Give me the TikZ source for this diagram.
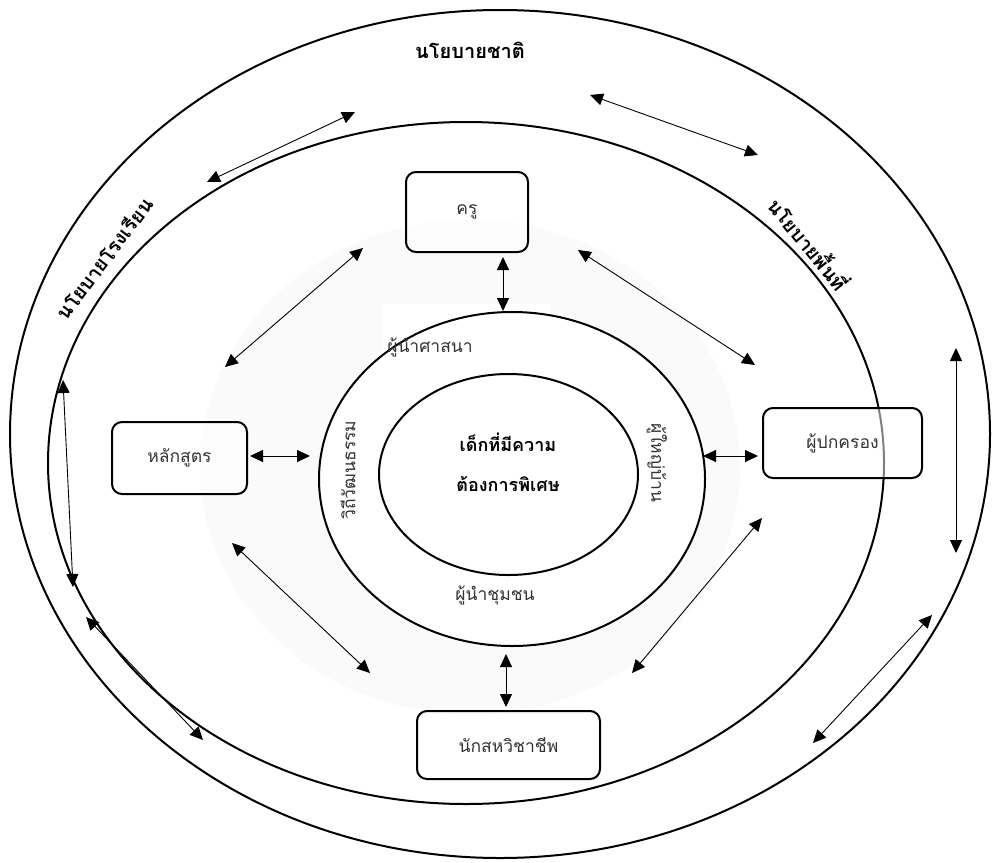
\documentclass[tikz,border=0pt]{standalone}
\usepackage{fontspec}
\setmainfont[Script=Thai]{Loma}
\usetikzlibrary{arrows.meta}
\begin{document}
\begin{tikzpicture}[x=1pt,y=-1pt,
  ring/.style={line width=2pt},
  box/.style={draw, line width=2pt, rounded corners=10pt, fill=white, fill opacity=0.5, text opacity=1, font=\fontsize{17.5}{20}\selectfont, text=black!80},
  link/.style={line width=0.9pt, {Triangle[length=13pt,width=12pt]}-{Triangle[length=13pt,width=12pt]}},
  lbl/.style={font=\fontsize{17.5}{20}\selectfont, text=black!80},
  head/.style={font=\bfseries\fontsize{20}{23}\selectfont},
  core/.style={font=\bfseries\fontsize{18}{21}\selectfont},
]
\useasboundingbox (0,0) rectangle (992,862);
\fill[white] (0,0) rectangle (992,862);
% ellipses
\draw[ring] (500,434) ellipse [x radius=490, y radius=424];
\draw[ring] (466,463) ellipse [x radius=418, y radius=341];
\fill[black!2] (470,467) ellipse [x radius=270, y radius=247];
\fill[white] (382,304) rectangle (551,370);
\draw[ring, fill=white] (512,479) ellipse [x radius=193, y radius=167];
\draw[ring] (508.5,474.5) ellipse [x radius=129.5, y radius=100.5];
% boxes
\node[box, minimum width=122pt, minimum height=80pt] (kru) at (467,212) {ครู};
\node[box, minimum width=135pt, minimum height=72pt] (lak) at (179.5,458) {หลักสูตร};
\node[box, minimum width=159pt, minimum height=70pt] (par) at (842.5,443) {ผู้ปกครอง};
\node[box, minimum width=183pt, minimum height=68pt] (mul) at (508.5,745) {นักสหวิชาชีพ};
% texts
\node[head] (nat) at (470,50) {นโยบายชาติ};
\node[head, rotate=53] (sch) at (104,258) {นโยบายโรงเรียน};
\node[head, rotate=-51] (area) at (810,243) {นโยบายพื้นที่};
\node[core] (c1) at (508,442) {เด็กที่มีความ};
\node[core] (c2) at (508,484) {ต้องการพิเศษ};
\node[lbl] (rel) at (430,347) {ผู้นำศาสนา};
\node[lbl] (com) at (495,595) {ผู้นำชุมชน};
\node[lbl, rotate=90] (cul) at (348,470) {วิถีวัฒนธรรม};
\node[lbl, rotate=-90] (vil) at (657,463) {ผู้ใหญ่บ้าน};
% arrow end points
\coordinate (a1s) at (207,182); \coordinate (a1e) at (355,112);
\coordinate (a2s) at (590,95);  \coordinate (a2e) at (758,155);
\coordinate (a3s) at (503,257); \coordinate (a3e) at (503,311);
\coordinate (a4s) at (363,248); \coordinate (a4e) at (225,367);
\coordinate (a5s) at (578,250); \coordinate (a5e) at (755,365);
\coordinate (a6s) at (250,456); \coordinate (a6e) at (310,456);
\coordinate (a7s) at (703,456); \coordinate (a7e) at (758,456);
\coordinate (a8s) at (232,543); \coordinate (a8e) at (370,673);
\coordinate (a9s) at (762,518); \coordinate (a9e) at (632,673);
\coordinate (a10s) at (506,654); \coordinate (a10e) at (506,707);
\coordinate (a11s) at (956,348); \coordinate (a11e) at (956,553);
\coordinate (a12s) at (932,615); \coordinate (a12e) at (813,743);
\coordinate (a13s) at (63,380); \coordinate (a13e) at (73,587);
\coordinate (a14s) at (86,617); \coordinate (a14e) at (203,740);
\foreach \i in {1,...,14} {\draw[link] (a\i s) -- (a\i e);}
\end{tikzpicture}
\end{document}
